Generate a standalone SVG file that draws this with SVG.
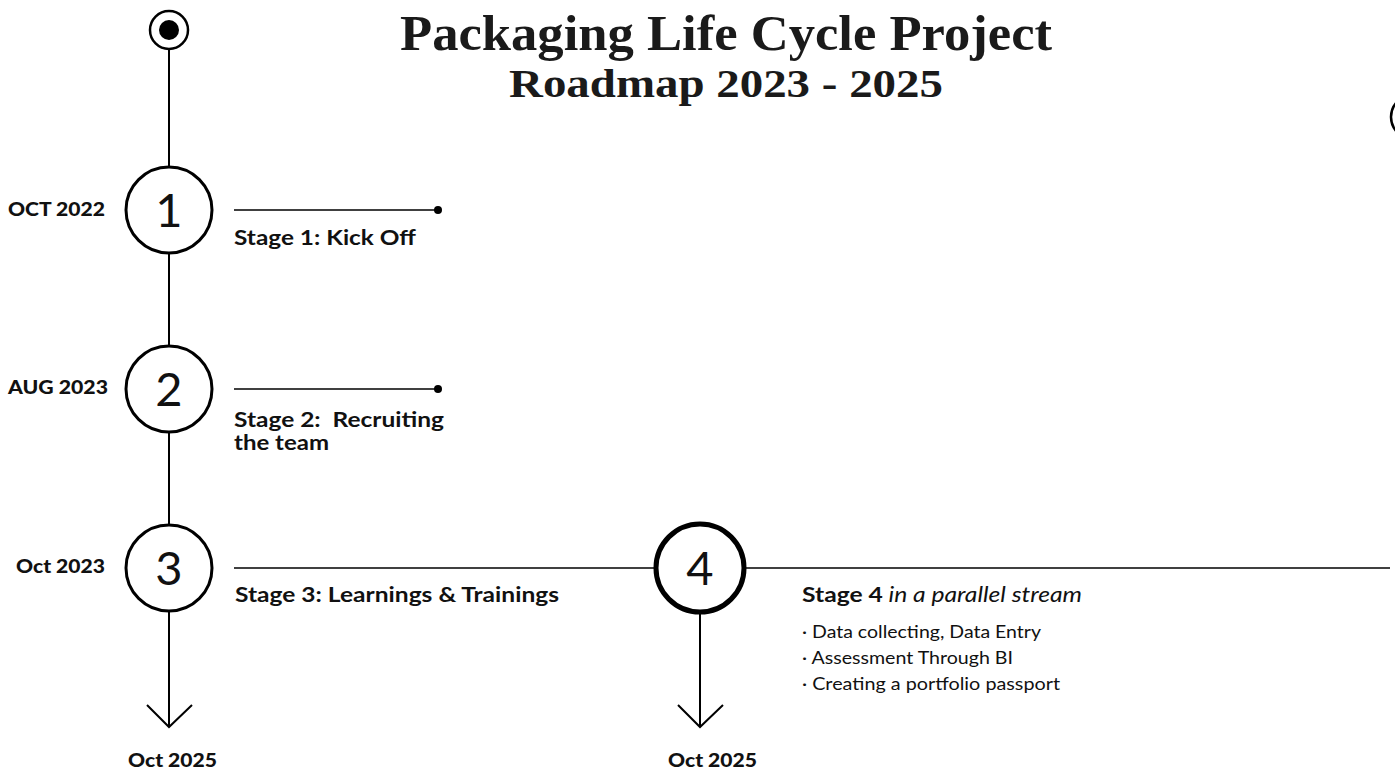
<svg xmlns="http://www.w3.org/2000/svg" width="1395" height="771" viewBox="0 0 1395 771">
  <style>
    .title { font-family: "Liberation Serif", "DejaVu Serif", serif; font-weight: bold; fill: #1a1a1a; }
    .date { font-family: Lato, "Noto Sans", sans-serif; font-weight: 900; font-size: 18px; fill: #111; }
    .stage { font-family: Lato, "Noto Sans", sans-serif; font-weight: bold; font-size: 21px; fill: #111; }
    .num { font-family: Lato, "Noto Sans", sans-serif; font-size: 47px; fill: #111; text-anchor: middle; }
    .item { font-family: Lato, "Noto Sans", sans-serif; font-size: 17px; fill: #111; }
    .ring { fill: #fff; stroke: #000; stroke-width: 3; }
    .ring-thick { fill: #fff; stroke: #000; stroke-width: 5; }
    .axis { stroke: #000; stroke-width: 2; fill: none; }
    .branch { stroke: #000; stroke-width: 1.5; fill: none; }
  </style>

  <!-- heading -->
  <g id="title">
    <text class="title" x="726" y="50" font-size="51" text-anchor="middle" textLength="652" lengthAdjust="spacingAndGlyphs">Packaging Life Cycle Project</text>
    <text class="title" x="726" y="97" font-size="41" text-anchor="middle" textLength="434" lengthAdjust="spacingAndGlyphs">Roadmap 2023 - 2025</text>
  </g>

  <!-- connectors -->
  <g id="connectors">
    <line class="axis" x1="169" y1="49" x2="169" y2="166"/>
    <line class="axis" x1="169" y1="254" x2="169" y2="345"/>
    <line class="axis" x1="169" y1="433" x2="169" y2="524"/>
    <line class="axis" x1="169" y1="612" x2="169" y2="726"/>
    <polyline class="axis" points="147,705 169,727 192,705"/>
    <line class="axis" x1="700" y1="614" x2="700" y2="726"/>
    <polyline class="axis" points="678,705 700,727 723,705"/>
    <line class="branch" x1="234" y1="210" x2="438" y2="210"/>
    <circle cx="438" cy="210" r="4" fill="#000"/>
    <line class="branch" x1="234" y1="389" x2="438" y2="389"/>
    <circle cx="438" cy="389" r="4" fill="#000"/>
    <line class="branch" x1="234" y1="568" x2="656" y2="568"/>
    <line class="branch" x1="745" y1="568" x2="1390" y2="568"/>
  </g>

  <!-- start point -->
  <g id="start">
    <circle cx="169" cy="30" r="19" fill="#fff" stroke="#000" stroke-width="2.5"/>
    <circle cx="169" cy="30" r="10" fill="#000"/>
  </g>

  <!-- edge marker at the right border -->
  <g id="edge-marker">
    <circle cx="1413" cy="117" r="22" fill="none" stroke="#000" stroke-width="2.5"/>
  </g>

  <g id="stage1">
    <circle class="ring" cx="169" cy="210" r="43"/>
    <text class="num" x="169" y="227">1</text>
    <text class="date" x="8" y="216" textLength="97" lengthAdjust="spacingAndGlyphs">OCT 2022</text>
    <text class="stage" x="234" y="245" textLength="182" lengthAdjust="spacingAndGlyphs">Stage 1: Kick Off</text>
  </g>

  <g id="stage2">
    <circle class="ring" cx="169" cy="389" r="43"/>
    <text class="num" x="169" y="406">2</text>
    <text class="date" x="8" y="394" textLength="100" lengthAdjust="spacingAndGlyphs">AUG 2023</text>
    <text class="stage" x="234" y="427" textLength="210" lengthAdjust="spacingAndGlyphs" xml:space="preserve">Stage 2:  Recruiting</text>
    <text class="stage" x="234" y="450" textLength="95" lengthAdjust="spacingAndGlyphs">the team</text>
  </g>

  <g id="stage3">
    <circle class="ring" cx="169" cy="568" r="43"/>
    <text class="num" x="169" y="585">3</text>
    <text class="date" x="16" y="573" textLength="89" lengthAdjust="spacingAndGlyphs">Oct 2023</text>
    <text class="stage" x="235" y="602" textLength="324" lengthAdjust="spacingAndGlyphs">Stage 3: Learnings &amp; Trainings</text>
    <text class="date" x="128" y="767" textLength="89" lengthAdjust="spacingAndGlyphs">Oct 2025</text>
  </g>

  <g id="stage4">
    <circle class="ring-thick" cx="700" cy="568" r="44"/>
    <text class="num" x="700" y="585">4</text>
    <text class="stage" x="802" y="602" textLength="280" lengthAdjust="spacingAndGlyphs"><tspan>Stage 4</tspan><tspan font-weight="normal" font-style="italic"> in a parallel stream</tspan></text>
    <text class="item" x="802" y="638" textLength="239" lengthAdjust="spacingAndGlyphs">· Data collecting, Data Entry</text>
    <text class="item" x="802" y="664" textLength="211" lengthAdjust="spacingAndGlyphs">· Assessment Through BI</text>
    <text class="item" x="802" y="690" textLength="258" lengthAdjust="spacingAndGlyphs">· Creating a portfolio passport</text>
    <text class="date" x="668" y="767" textLength="89" lengthAdjust="spacingAndGlyphs">Oct 2025</text>
  </g>
</svg>
